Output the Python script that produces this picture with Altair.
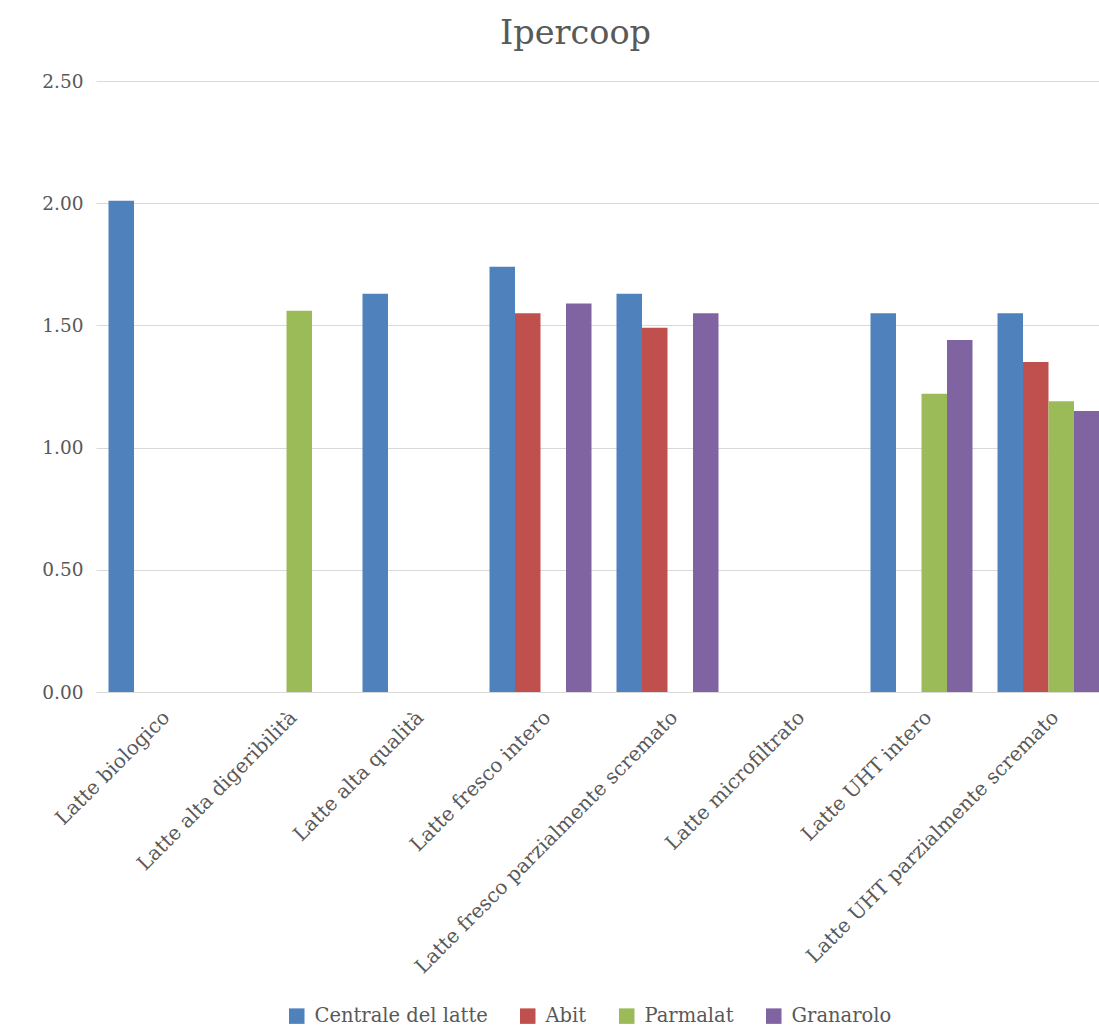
import altair as alt
import pandas as pd

categories = [
    "Latte biologico",
    "Latte alta digeribilità",
    "Latte alta qualità",
    "Latte fresco intero",
    "Latte fresco parzialmente scremato",
    "Latte microfiltrato",
    "Latte UHT intero",
    "Latte UHT parzialmente scremato",
]
series = ["Centrale del latte", "Abit", "Parmalat", "Granarolo"]
centrale = [2.01, None, 1.63, 1.74, 1.63, None, 1.55, 1.55]
abit = [None, None, None, 1.55, 1.49, None, None, 1.35]
parmalat = [None, 1.56, None, None, None, None, 1.22, 1.19]
granarolo = [None, None, None, 1.59, 1.55, None, 1.44, 1.15]
colors = ["#4F81BD", "#C0504D", "#9BBB59", "#8064A2"]
y_ticks = [0, 0.5, 1.0, 1.5, 2.0, 2.5]

rows = []
for s, vals in zip(series, [centrale, abit, parmalat, granarolo]):
    for c, v in zip(categories, vals):
        if v is not None:
            rows.append({"categoria": c, "marca": s, "prezzo": v})
df = pd.DataFrame(rows)

FONT = "DejaVu Serif"
GREY = "#595959"

chart = alt.Chart(df).mark_bar(clip=True).encode(
    x=alt.X(
        "categoria:N",
        sort=categories,
        scale=alt.Scale(domain=categories, range=[0, 1016],
                        paddingInner=25 / 127, paddingOuter=12.5 / 127),
        axis=alt.Axis(title=None, labelAngle=-45, labelAlign="right",
                      labelBaseline="top", labelPadding=15, labelFontSize=20,
                      labelFont=FONT, labelColor=GREY, ticks=False,
                      domain=False, grid=False, labelLimit=600),
    ),
    xOffset=alt.XOffset("marca:N", sort=series,
                        scale=alt.Scale(domain=series, paddingInner=0, paddingOuter=0)),
    y=alt.Y(
        "prezzo:Q",
        scale=alt.Scale(domain=[0, 2.5]),
        axis=alt.Axis(title=None, values=y_ticks, format=".2f", labelFont=FONT,
                      labelFontSize=18.5, labelColor=GREY, ticks=False,
                      domain=False, gridColor="#D9D9D9", gridWidth=1,
                      labelPadding=13),
    ),
    color=alt.Color(
        "marca:N",
        sort=series,
        scale=alt.Scale(domain=series, range=colors),
        legend=alt.Legend(title=None, orient="none", legendX=191, legendY=925,
                          direction="horizontal", columns=4, symbolType="square",
                          symbolSize=240, symbolStrokeWidth=0, symbolOpacity=1,
                          labelFont=FONT, labelFontSize=19.5, labelColor=GREY,
                          labelLimit=400, columnPadding=30, labelOffset=8),
    ),
).properties(
    width=1003,
    height=611,
    background="white",
    title=alt.TitleParams("Ipercoop", font=FONT, fontSize=33.5, color=GREY,
                          fontWeight="normal", anchor="middle", dx=-22, dy=39,
                          baseline="bottom", offset=27),
    autosize=alt.AutoSizeParams(type="none"),
    padding={"left": 96, "top": 81, "right": 0, "bottom": 344},
).configure_view(stroke=None)

chart.save("out.html", embed_options={"renderer": "svg", "actions": False})
